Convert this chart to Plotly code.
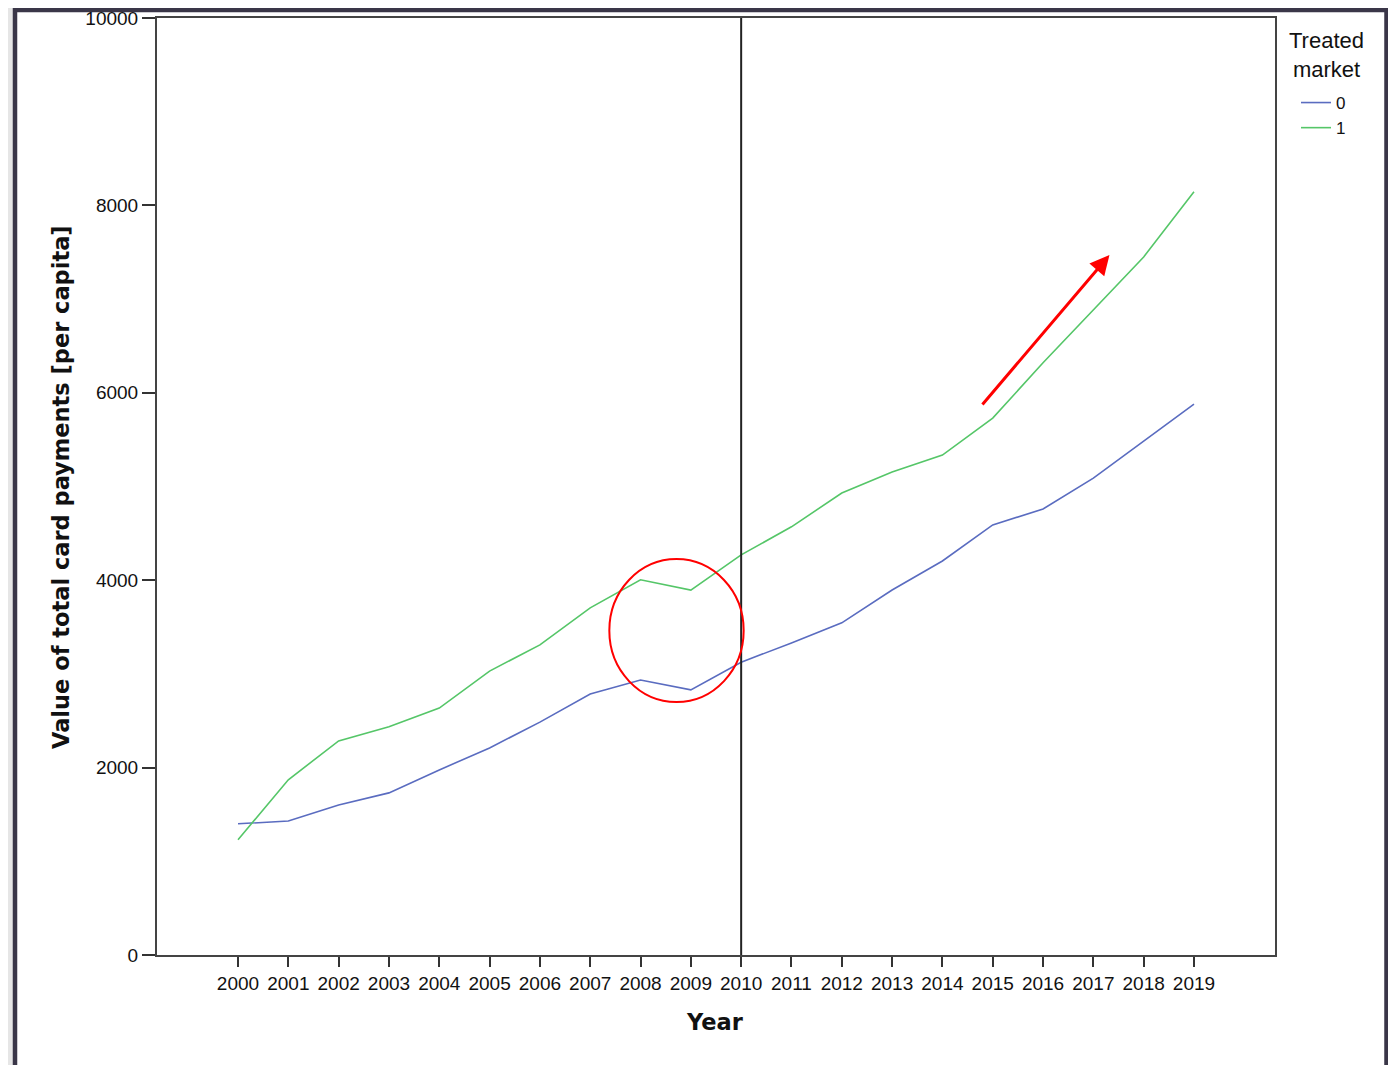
import plotly.graph_objects as go

years = list(range(2000, 2020))
control = [1400, 1430, 1600, 1730, 1975, 2210, 2485, 2785, 2935, 2830,
           3125, 3330, 3545, 3895, 4205, 4590, 4760, 5090, 5485, 5880]
treated = [1230, 1870, 2285, 2435, 2635, 3030, 3310, 3705, 4005, 3895,
           4270, 4570, 4930, 5155, 5335, 5730, 6320, 6885, 7450, 8145]
series_names = ["0", "1"]
series_colors = ["#5a6cc0", "#55c668"]
y_ticks = [0, 2000, 4000, 6000, 8000, 10000]

# figure is placed 8px from the page's top-left corner (body margin)
OFF = 8
W, H = 1396 - OFF, 1065 - OFF
L, R, T, B = 157 - OFF, 1275 - OFF, 18 - OFF, 955 - OFF

tick_font = dict(family="Liberation Sans, Arial", size=19, color="#111")
title_font = dict(family="DejaVu Sans, Verdana", size=22.5, color="#111")

fig = go.Figure()
for name, vals, col in zip(series_names, [control, treated], series_colors):
    fig.add_trace(go.Scatter(x=years, y=vals, mode="lines", name=name,
                             line=dict(color=col, width=1.6)))

def px_x(p):
    return (p - OFF - L) / (R - L)

def px_y(p):
    return (B - (p - OFF)) / (B - T)

# page frame
fig.add_shape(type="rect", xref="paper", yref="paper",
              x0=px_x(15), x1=px_x(1386.5), y0=px_y(1090), y1=px_y(10),
              fillcolor="white", line=dict(color="#3a3648", width=4.5), layer="below")

# vertical line at 2010
fig.add_shape(type="line", xref="x", yref="paper", x0=2010, x1=2010, y0=0, y1=1,
              line=dict(color="#222", width=2))

# red circle
fig.add_shape(type="circle", xref="x", yref="y", x0=2007.38, x1=2010.05, y0=2700, y1=4225,
              line=dict(color="#ff0000", width=2))

# red arrow
fig.add_annotation(x=2017.32, y=7470, ax=2014.77, ay=5860, xref="x", yref="y",
                   axref="x", ayref="y", text="", showarrow=True,
                   arrowhead=2, arrowsize=1.3, arrowwidth=3, arrowcolor="#ff0000")

# axis titles
fig.add_annotation(x=px_x(61), y=px_y(487), xref="paper", yref="paper",
                   text="<b>Value of total card payments [per capita]</b>", textangle=-90,
                   showarrow=False, font=title_font, xanchor="center", yanchor="middle")
fig.add_annotation(x=px_x(715), y=px_y(1022), xref="paper", yref="paper",
                   text="<b>Year</b>", showarrow=False, font=title_font,
                   xanchor="center", yanchor="middle")

# legend title
fig.add_annotation(x=px_x(1326), y=px_y(55), xref="paper", yref="paper",
                   text="Treated<br>market", showarrow=False,
                   font=dict(family="Liberation Sans, Arial", size=22, color="#111"),
                   xanchor="center", yanchor="middle", align="center")

fig.update_layout(
    width=W, height=H,
    margin=dict(l=L, r=W - R, t=T, b=H - B),
    template="none",
    paper_bgcolor="#e6e6e6",
    plot_bgcolor="#f0f0f0",
    showlegend=True,
    legend=dict(
        x=px_x(1296), y=px_y(85), xanchor="left", yanchor="top",
        bgcolor="rgba(0,0,0,0)", borderwidth=0,
        font=dict(family="Liberation Sans, Arial", size=17, color="#111"),
        tracegroupgap=0, itemwidth=30,
    ),
    xaxis=dict(
        range=[1998.39, 2020.61], tickvals=years, ticktext=[str(y) for y in years],
        ticks="outside", ticklen=10, tickwidth=2, tickcolor="#333",
        showline=True, mirror=True, linecolor="#444", linewidth=2,
        showgrid=False, zeroline=False, tickfont=tick_font, automargin=False,
        ticklabeloverflow="allow",
    ),
    yaxis=dict(
        range=[0, 10000], tickvals=y_ticks, ticktext=[str(v) for v in y_ticks],
        ticks="outside", ticklen=13, tickwidth=2, tickcolor="#333",
        showline=True, mirror=True, linecolor="#444", linewidth=2,
        showgrid=False, zeroline=False, tickfont=tick_font, automargin=False,
        ticklabeloverflow="allow",
    ),
)

fig.write_html("out.html")
